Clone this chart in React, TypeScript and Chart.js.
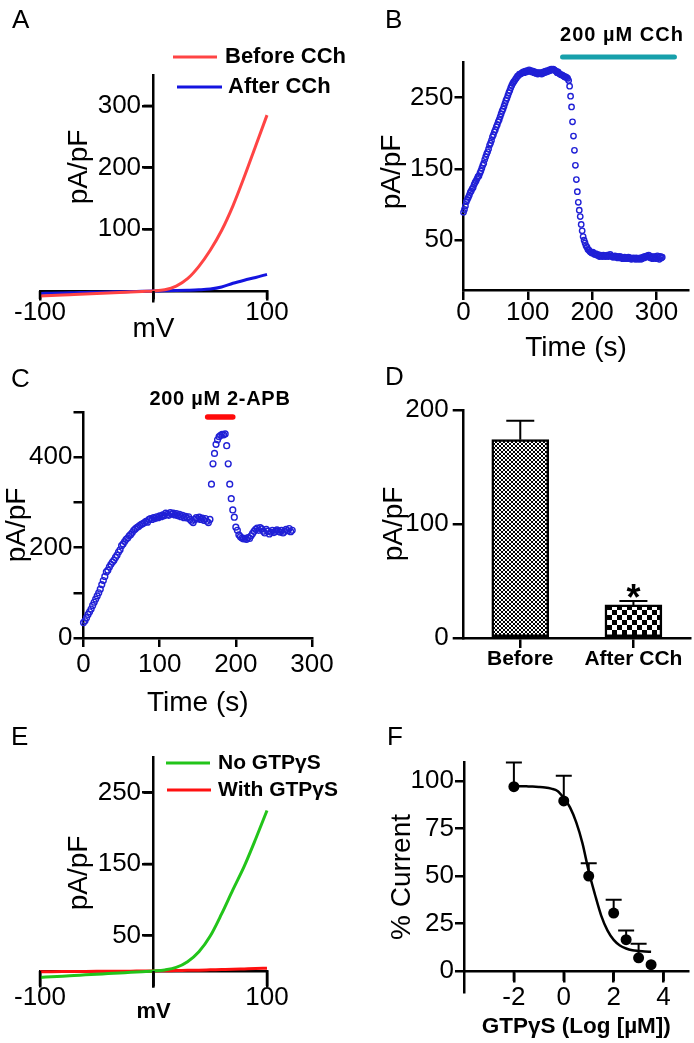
import React, { useEffect, useRef } from 'react';
import { Chart, registerables } from 'chart.js';

Chart.register(...registerables);

const FONT = "'Liberation Sans', Arial, Helvetica, sans-serif";
Chart.defaults.font.family = FONT;
Chart.defaults.color = '#000';

// ---------------- Panel A : I-V before / after CCh ----------------
const A_MV = [-100, -90, -80, -70, -60, -50, -40, -30, -20, -10, 0, 10, 20, 30, 40, 50, 60, 70, 80, 90, 100];
const A_BEFORE = [-8, -7.2, -6.4, -5.6, -4.8, -4, -3.2, -2.4, -1.6, -0.8, 0, 2, 8, 20, 40, 66, 98, 138, 185, 235, 285];
const A_AFTER = [-4, -3.6, -3.2, -2.8, -2.4, -2, -1.6, -1.2, -0.8, -0.4, 0, 0.3, 0.7, 1.2, 1.9, 3.2, 6.5, 12.5, 17.5, 22, 27];
const A_X_TICKS = [-100, 0, 100];
const A_Y_TICKS = [100, 200, 300];

// ---------------- Panel B : time course, CCh ----------------
const B_T0 = 0;
const B_DT = 1.5;
const B_VALUES = [
  89, 93, 98, 104, 107, 110, 113, 117, 119, 122,
  124, 128, 131, 133, 136, 139, 140, 144, 147, 151,
  155, 158, 163, 167, 171, 174, 178, 183, 186, 190,
  195, 198, 202, 205, 209, 212, 216, 219, 223, 227,
  231, 234, 238, 242, 246, 249, 253, 257, 260, 264,
  267, 270, 272, 274, 276, 278, 280, 281, 283, 283,
  284, 285, 286, 285, 287, 286, 288, 287, 289, 287,
  288, 286, 287, 285, 286, 284, 285, 283, 285, 284,
  285, 283, 284, 286, 285, 287, 286, 288, 287, 289,
  288, 290, 289, 290, 289, 288, 287, 285, 286, 284,
  283, 282, 282, 281, 280, 279, 279, 278, 277, 274,
  266, 252, 237, 216, 196, 176, 155, 135, 118, 103,
  92, 83, 72, 63, 55, 50, 46, 42, 40, 37,
  36, 34, 33, 32, 33, 31, 30, 31, 29, 30,
  28, 27, 29, 28, 27, 29, 28, 27, 28, 29,
  27, 28, 30, 28, 27, 26, 27, 28, 26, 27,
  25, 26, 27, 25, 26, 24, 25, 26, 24, 25,
  24, 26, 24, 25, 23, 24, 25, 24, 23, 25,
  24, 23, 24, 25, 23, 24, 26, 25, 27, 26,
  28, 27, 29, 26, 25, 27, 24, 26, 25, 27,
  24, 28, 26, 23, 27, 25, 26,
];
const B_X_TICKS = [0, 100, 200, 300];
const B_Y_TICKS = [50, 150, 250];
const CCH_ON = 154;
const CCH_OFF = 328;

// ---------------- Panel C : time course, 2-APB ----------------
const C_T0 = 0;
const C_DT = 2;
const C_VALUES = [
  34, 38, 45, 52, 58, 64, 72, 79, 86, 93,
  100, 108, 118, 127, 136, 146, 150, 157, 163, 168,
  172, 178, 183, 190, 195, 204, 208, 213, 218, 221,
  226, 229, 233, 238, 241, 244, 246, 249, 251, 253,
  255, 258, 256, 262, 264, 262, 266, 264, 268, 266,
  270, 268, 272, 270, 276, 273, 271, 277, 274, 276,
  272, 275, 270, 273, 268, 271, 266, 269, 265, 268,
  262, 258, 255, 262, 266, 263, 267, 262, 265, 260,
  264, 258, 255, 262, 340, 385, 408, 428, 438, 445,
  448, 450, 449, 451, 425, 385, 340, 308, 283, 267,
  245, 238, 228, 224, 221, 219, 220, 218, 222, 220,
  226, 231, 236, 240, 243, 238, 244, 241, 236, 232,
  240, 236, 230, 234, 238, 233, 236, 239, 236, 234,
  238, 232, 236, 240, 237, 242, 235, 238,
];
const C_X_TICKS = [0, 100, 200, 300];
const C_Y_TICKS = [0, 100, 200, 300, 400, 500];
const C_Y_LABELLED = [0, 200, 400];
const APB_ON = 163;
const APB_OFF = 196;

// ---------------- Panel D : summary bars ----------------
const D_LABELS = ['Before', 'After CCh'];
const D_MEANS = [174, 29];
const D_SEM = [16.5, 3.5];
const D_Y_TICKS = [0, 100, 200];

// ---------------- Panel E : I-V with / without GTPγS ----------------
const E_MV = [-100, -90, -80, -70, -60, -50, -40, -30, -20, -10, 0, 10, 20, 30, 40, 50, 60, 70, 80, 90, 100];
const E_NO_GTP = [-9, -8.1, -7.2, -6.3, -5.4, -4.5, -3.6, -2.7, -1.8, -0.9, 0, 1.5, 5, 13, 27, 49, 80, 114, 147, 185, 225];
const E_WITH_GTP = [-1, -0.9, -0.8, -0.7, -0.6, -0.5, -0.4, -0.3, -0.2, -0.1, 0, 0.3, 0.6, 0.9, 1.2, 1.6, 2, 2.4, 2.9, 3.4, 4];
const E_X_TICKS = [-100, 0, 100];
const E_Y_TICKS = [50, 150, 250];

// ---------------- Panel F : dose response ----------------
const F_LOGC = [-2, 0, 1, 2, 2.5, 3, 3.5];
const F_PCT = [97, 89.5, 50, 30.5, 16.5, 7, 3.4];
const F_SEM = [12.8, 13.3, 6.7, 7, 4.8, 7.4, 0];
const F_FIT_X = [-2, -1.75, -1.5, -1.25, -1, -0.75, -0.5, -0.25, 0, 0.25, 0.5, 0.75, 1, 1.25, 1.5, 1.75, 2, 2.25, 2.5, 2.75, 3, 3.25, 3.5];
const F_FIT_Y = [97.4, 97.3, 97.2, 97.1, 96.9, 96.6, 96.0, 94.8, 91.1, 86.1, 78.2, 67.2, 52.5, 40.3, 29.2, 21.4, 16.4, 13.5, 11.9, 11.0, 10.6, 10.3, 10.2];
const F_X_TICKS = [-2, 0, 2, 4];
const F_Y_TICKS = [0, 25, 50, 75, 100];

// ---------------- helpers ----------------
const TICK_SIZE = 26;
const TITLE_SIZE = 28;
const tickFont = (size = TICK_SIZE, bold = false) => ({ family: FONT, size, lineHeight: 1, weight: bold ? 'bold' : 'normal' });
const gridOpts = (tl: number) => ({
  display: true, drawOnChartArea: false, drawTicks: true, tickLength: tl,
  color: '#000', lineWidth: 2.5, offset: false,
});
const borderOpts = { display: true, color: '#000', width: 2.5 };
const setTicks = (vals: number[]) => (s: any) => { s.ticks = vals.map((v) => ({ value: v })); };
const fixW = (w: number) => (s: any) => { s.width = w; };
const fixH = (h: number) => (s: any) => { s.height = h; };
const titleOpt = (text: string, size: number, bold: boolean, padding: any) => ({
  display: true, text, color: '#000',
  font: { family: FONT, size, lineHeight: 1.2, weight: bold ? 'bold' : 'normal' },
  padding,
});
const baseOptions = (padding: any) => ({
  animation: false,
  responsive: false,
  devicePixelRatio: 1,
  events: [],
  layout: { padding },
  plugins: { legend: { display: false }, tooltip: { enabled: false } },
});
const xy = (xs: number[], ys: number[]) => xs.map((x, i) => ({ x, y: ys[i] }));
const series = (t0: number, dt: number, ys: number[]) => ys.map((y, i) => ({ x: t0 + i * dt, y }));
// label for a y axis that sits on x = 0: keep a gap for the tick mark
const crossLabel = (v: number) => `${v} \u2009`;

type TextItem = {
  text: string; x: number; y: number; size: number; bold?: boolean;
  align?: CanvasTextAlign; baseline?: CanvasTextBaseline; rotate?: number; spacing?: number;
};
type LegendRow = { x1: number; x2: number; tx: number; y: number };
type DecorCfg = {
  texts?: TextItem[];
  legend?: LegendRow[];
  legendSize?: number;
  bar?: { from: number; to: number; y: number; color: string; width: number };
};

function decor(cfg: DecorCfg) {
  return {
    id: 'decor',
    afterDraw(chart: any) {
      const ctx: CanvasRenderingContext2D = chart.ctx;
      ctx.save();
      if (cfg.bar) {
        const xs = chart.scales.x;
        ctx.strokeStyle = cfg.bar.color;
        ctx.lineWidth = cfg.bar.width;
        ctx.lineCap = 'round';
        ctx.beginPath();
        ctx.moveTo(xs.getPixelForValue(cfg.bar.from), cfg.bar.y);
        ctx.lineTo(xs.getPixelForValue(cfg.bar.to), cfg.bar.y);
        ctx.stroke();
      }
      (cfg.legend || []).forEach((row, i) => {
        const ds = chart.data.datasets[i];
        ctx.strokeStyle = ds.borderColor;
        ctx.lineWidth = 3;
        ctx.lineCap = 'butt';
        ctx.beginPath();
        ctx.moveTo(row.x1, row.y);
        ctx.lineTo(row.x2, row.y);
        ctx.stroke();
        ctx.fillStyle = '#000';
        ctx.font = `bold ${cfg.legendSize || 21}px ${FONT}`;
        ctx.textAlign = 'left';
        ctx.textBaseline = 'middle';
        ctx.fillText(ds.label, row.tx, row.y);
      });
      (cfg.texts || []).forEach((t) => {
        ctx.save();
        ctx.fillStyle = '#000';
        ctx.font = `${t.bold ? 'bold ' : ''}${t.size}px ${FONT}`;
        ctx.textAlign = t.align || 'left';
        ctx.textBaseline = t.baseline || 'middle';
        (ctx as any).letterSpacing = `${t.spacing || 0}px`;
        ctx.translate(t.x, t.y);
        if (t.rotate) ctx.rotate(t.rotate);
        ctx.fillText(t.text, 0, 0);
        ctx.restore();
      });
      ctx.restore();
    },
  };
}

// tick marks for axes that cross at the origin (x axis at y = 0, y axis at x = 0)
function crossTicks(cfg: { x?: number; y?: number }) {
  return {
    id: 'crossTicks',
    afterDatasetsDraw(chart: any) {
      const ctx: CanvasRenderingContext2D = chart.ctx;
      const xs = chart.scales.x;
      const ys = chart.scales.y;
      ctx.save();
      ctx.strokeStyle = '#000';
      ctx.lineWidth = 2.5;
      ctx.lineCap = 'butt';
      if (cfg.x) {
        const y0 = ys.getPixelForValue(0);
        xs.ticks.forEach((t: any) => {
          const px = xs.getPixelForValue(t.value);
          ctx.beginPath();
          ctx.moveTo(px, y0);
          ctx.lineTo(px, y0 + cfg.x!);
          ctx.stroke();
        });
      }
      if (cfg.y) {
        const x0 = xs.getPixelForValue(0);
        ys.ticks.forEach((t: any) => {
          const py = ys.getPixelForValue(t.value);
          ctx.beginPath();
          ctx.moveTo(x0, py);
          ctx.lineTo(x0 - cfg.y!, py);
          ctx.stroke();
        });
      }
      ctx.restore();
    },
  };
}

function errorBars(errors: number[], half: number, star?: { index: number; text: string; size: number; dy: number }) {
  return {
    id: 'errorBars',
    beforeDatasetsDraw(chart: any) {
      const ctx: CanvasRenderingContext2D = chart.ctx;
      const meta = chart.getDatasetMeta(0);
      const ys = chart.scales.y;
      const ds = chart.data.datasets[0];
      ctx.save();
      ctx.strokeStyle = '#000';
      ctx.lineWidth = 2;
      meta.data.forEach((el: any, i: number) => {
        const err = errors[i];
        if (!err) return;
        const raw = ds.data[i];
        const v = typeof raw === 'number' ? raw : raw.y;
        const top = ys.getPixelForValue(v + err);
        ctx.beginPath();
        ctx.moveTo(el.x, el.y);
        ctx.lineTo(el.x, top);
        ctx.moveTo(el.x - half, top);
        ctx.lineTo(el.x + half, top);
        ctx.stroke();
      });
      ctx.restore();
    },
    afterDatasetsDraw(chart: any) {
      if (!star) return;
      const ctx: CanvasRenderingContext2D = chart.ctx;
      const el = chart.getDatasetMeta(0).data[star.index];
      const ds = chart.data.datasets[0];
      const v = ds.data[star.index];
      const top = chart.scales.y.getPixelForValue(v + errors[star.index]);
      ctx.save();
      ctx.fillStyle = '#000';
      ctx.font = `bold ${star.size}px ${FONT}`;
      ctx.textAlign = 'center';
      ctx.textBaseline = 'alphabetic';
      ctx.fillText(star.text, el.x, top + star.dy);
      ctx.restore();
    },
  };
}

function makeChecker(cell: number) {
  const c = document.createElement('canvas');
  c.width = cell * 2;
  c.height = cell * 2;
  const g = c.getContext('2d')!;
  g.fillStyle = '#fff';
  g.fillRect(0, 0, cell * 2, cell * 2);
  g.fillStyle = '#000';
  g.fillRect(0, 0, cell, cell);
  g.fillRect(cell, cell, cell, cell);
  return g.createPattern(c, 'repeat');
}

const lineDs = (label: string, data: any[], color: string) => ({
  label, data, showLine: true, borderColor: color, backgroundColor: color, borderWidth: 3,
  pointRadius: 0, cubicInterpolationMode: 'monotone', fill: false, clip: false,
});
const circleDs = (data: any[], radius: number) => ({
  data, showLine: false, pointRadius: radius, pointBorderWidth: 1.4,
  borderColor: '#2020d6', pointBorderColor: '#2020d6', backgroundColor: 'rgba(0,0,0,0)',
  pointBackgroundColor: 'rgba(0,0,0,0)', clip: false,
});

// ---------------- configs ----------------
function configA() {
  return {
    type: 'scatter',
    data: {
      datasets: [
        lineDs('Before CCh', xy(A_MV, A_BEFORE), '#ff4444'),
        lineDs('After CCh', xy(A_MV, A_AFTER), '#1414e0'),
      ],
    },
    options: {
      ...baseOptions({ left: 40, right: 80, top: 75, bottom: 43.5 }),
      scales: {
        x: {
          type: 'linear', min: -100, max: 100, position: { y: 0 },
          afterBuildTicks: setTicks(A_X_TICKS), afterFit: fixH(54.8),
          ticks: { font: tickFont(), color: '#000', padding: 1, autoSkip: false, maxRotation: 0, callback: (v: number) => (v === 0 ? '' : String(v)) },
          grid: gridOpts(8), border: borderOpts,
          title: titleOpt('mV', TITLE_SIZE, false, 0),
        },
        y: {
          type: 'linear', min: -17, max: 350, position: { x: 0 },
          afterBuildTicks: setTicks(A_Y_TICKS),
          ticks: { font: tickFont(), color: '#000', padding: 0, autoSkip: false, callback: crossLabel },
          grid: gridOpts(10), border: borderOpts,
        },
      },
    },
    plugins: [
      crossTicks({ x: 8, y: 10 }),
      decor({
        texts: [
          { text: 'A', x: 12, y: 28, size: 26, baseline: 'alphabetic' },
          { text: 'pA/pF', x: 79, y: 167, size: TITLE_SIZE, align: 'center', rotate: -Math.PI / 2 },
        ],
        legend: [{ x1: 173, x2: 217, tx: 225, y: 57 }, { x1: 177, x2: 222, tx: 228, y: 87 }],
        legendSize: 22,
      }),
    ],
  };
}

function configB() {
  return {
    type: 'scatter',
    data: { datasets: [circleDs(series(B_T0, B_DT, B_VALUES), 2.7)] },
    options: {
      ...baseOptions({ left: 0, right: 4, top: 62, bottom: 0 }),
      scales: {
        x: {
          type: 'linear', min: 0, max: 350, position: 'bottom',
          afterBuildTicks: setTicks(B_X_TICKS), afterFit: fixH(80),
          ticks: { font: tickFont(), color: '#000', padding: 0, autoSkip: false, maxRotation: 0 },
          grid: gridOpts(10), border: borderOpts,
          title: titleOpt('Time (s)', TITLE_SIZE, false, { top: 0, bottom: 5.2 }),
        },
        y: {
          type: 'linear', min: -20, max: 300, position: 'left',
          afterBuildTicks: setTicks(B_Y_TICKS), afterFit: fixW(116.5),
          ticks: { font: tickFont(), color: '#000', padding: 1, autoSkip: false },
          grid: gridOpts(9), border: borderOpts,
        },
      },
    },
    plugins: [decor({
      texts: [
        { text: 'B', x: 38, y: 28, size: 26, baseline: 'alphabetic' },
        { text: 'pA/pF', x: 45, y: 172, size: TITLE_SIZE, align: 'center', rotate: -Math.PI / 2 },
        { text: '200 µM CCh', x: 275, y: 35, size: 20, bold: true, align: 'center', spacing: 1 },
      ],
      bar: { from: CCH_ON, to: CCH_OFF, y: 57, color: '#17a0ab', width: 5 },
    })],
  };
}

function configC() {
  return {
    type: 'scatter',
    data: { datasets: [circleDs(series(C_T0, C_DT, C_VALUES), 2.9)] },
    options: {
      ...baseOptions({ left: 0, right: 35, top: 66.75, bottom: 0 }),
      scales: {
        x: {
          type: 'linear', min: 0, max: 300, position: 'bottom',
          afterBuildTicks: setTicks(C_X_TICKS), afterFit: fixH(82),
          ticks: { font: tickFont(), color: '#000', padding: 5, autoSkip: false, maxRotation: 0 },
          grid: gridOpts(9), border: borderOpts,
          title: titleOpt('Time (s)', TITLE_SIZE, false, { top: 0, bottom: 0.2 }),
        },
        y: {
          type: 'linear', min: 0, max: 500, position: 'left',
          afterBuildTicks: setTicks(C_Y_TICKS), afterFit: fixW(83.5),
          ticks: { font: tickFont(), color: '#000', padding: 1, autoSkip: false, callback: (v: number) => (C_Y_LABELLED.includes(v) ? String(v) : '') },
          grid: gridOpts(10), border: borderOpts,
          title: titleOpt('pA/pF', TITLE_SIZE, false, { top: 0.4, bottom: 0 }),
        },
      },
    },
    plugins: [decor({
      texts: [
        { text: 'C', x: 11, y: 42, size: 26, baseline: 'alphabetic' },
        { text: '200 µM 2-APB', x: 220, y: 54.5, size: 20, bold: true, align: 'center', spacing: 0.7 },
      ],
      bar: { from: APB_ON, to: APB_OFF, y: 72, color: '#ff0a0a', width: 5.5 },
    })],
  };
}

function configD() {
  return {
    type: 'bar',
    data: {
      labels: D_LABELS,
      datasets: [{
        data: D_MEANS,
        backgroundColor: [makeChecker(2), makeChecker(5)],
        borderColor: '#000', borderWidth: 2.5, borderSkipped: false, barThickness: 57,
      }],
    },
    options: {
      ...baseOptions({ left: 0, right: 4, top: 65, bottom: 0 }),
      scales: {
        x: {
          type: 'category', position: 'bottom', afterFit: fixH(52),
          ticks: { font: tickFont(21, true), color: '#000', padding: 0.5, autoSkip: false, maxRotation: 0 },
          grid: gridOpts(10), border: borderOpts,
        },
        y: {
          type: 'linear', min: 0, max: 200, position: 'left',
          afterBuildTicks: setTicks(D_Y_TICKS), afterFit: fixW(116.7),
          ticks: { font: tickFont(), color: '#000', padding: 4, autoSkip: false },
          grid: gridOpts(11), border: borderOpts,
          title: titleOpt('pA/pF', TITLE_SIZE, false, { top: 30.2, bottom: 0 }),
        },
      },
    },
    plugins: [
      errorBars(D_SEM, 14, { index: 1, text: '*', size: 36, dy: 9 }),
      decor({ texts: [{ text: 'D', x: 38, y: 40, size: 26, baseline: 'alphabetic' }] }),
    ],
  };
}

function configE() {
  return {
    type: 'scatter',
    data: {
      datasets: [
        lineDs('No GTPγS', xy(E_MV, E_NO_GTP), '#22c41a'),
        lineDs('With GTPγS', xy(E_MV, E_WITH_GTP), '#ff1010'),
      ],
    },
    options: {
      ...baseOptions({ left: 40, right: 80, top: 57, bottom: 56.3 }),
      scales: {
        x: {
          type: 'linear', min: -100, max: 100, position: { y: 0 },
          afterBuildTicks: setTicks(E_X_TICKS), afterFit: fixH(54.2),
          ticks: { font: tickFont(), color: '#000', padding: -1, autoSkip: false, maxRotation: 0, callback: (v: number) => (v === 0 ? '' : String(v)) },
          grid: gridOpts(15), border: borderOpts,
          title: titleOpt('mV', 22, true, 0),
        },
        y: {
          type: 'linear', min: -22, max: 300, position: { x: 0 },
          afterBuildTicks: setTicks(E_Y_TICKS),
          ticks: { font: tickFont(), color: '#000', padding: 0, autoSkip: false, callback: crossLabel },
          grid: gridOpts(10), border: borderOpts,
        },
      },
    },
    plugins: [
      crossTicks({ x: 15, y: 10 }),
      decor({
        texts: [
          { text: 'E', x: 11, y: 45, size: 26, baseline: 'alphabetic' },
          { text: 'pA/pF', x: 79, y: 173, size: TITLE_SIZE, align: 'center', rotate: -Math.PI / 2 },
        ],
        legend: [{ x1: 166, x2: 210, tx: 218, y: 63 }, { x1: 167, x2: 211, tx: 218, y: 90 }],
        legendSize: 21,
      }),
    ],
  };
}

function configF() {
  return {
    type: 'scatter',
    data: {
      datasets: [
        {
          data: xy(F_LOGC, F_PCT), showLine: false, pointRadius: 5.5, pointBorderWidth: 0,
          pointBackgroundColor: '#000', backgroundColor: '#000', borderColor: '#000', clip: false,
        },
        { ...lineDs('fit', xy(F_FIT_X, F_FIT_Y), '#000'), borderWidth: 2.5 },
      ],
    },
    options: {
      ...baseOptions({ left: 0, right: 4, top: 62, bottom: 51 }),
      scales: {
        x: {
          type: 'linear', min: -4, max: 5, position: { y: 0 },
          afterBuildTicks: setTicks(F_X_TICKS), afterFit: fixH(69.4),
          ticks: { font: tickFont(), color: '#000', padding: 4, autoSkip: false, maxRotation: 0 },
          grid: gridOpts(10), border: borderOpts,
          title: titleOpt('GTPγS (Log [µM])', 22.5, true, 0),
        },
        y: {
          type: 'linear', min: -11, max: 110, position: 'left',
          afterBuildTicks: setTicks(F_Y_TICKS), afterFit: fixW(117),
          ticks: { font: tickFont(), color: '#000', padding: 1, autoSkip: false },
          grid: gridOpts(9), border: borderOpts,
          title: titleOpt('% Current', TITLE_SIZE, false, { top: 38.2, bottom: 0 }),
        },
      },
    },
    plugins: [
      crossTicks({ x: 10 }),
      errorBars(F_SEM, 8),
      decor({ texts: [{ text: 'F', x: 40, y: 45, size: 26, baseline: 'alphabetic' }] }),
    ],
  };
}

type PanelProps = { left: number; top: number; width: number; height: number; build: () => any };

function Panel({ left, top, width, height, build }: PanelProps) {
  const ref = useRef<HTMLCanvasElement>(null);
  useEffect(() => {
    const chart = new Chart(ref.current as HTMLCanvasElement, build());
    return () => chart.destroy();
  }, []);
  return (
    <canvas
      ref={ref}
      width={width}
      height={height}
      style={{ position: 'absolute', left, top, width, height }}
    />
  );
}

export default function App() {
  return (
    <div style={{ position: 'absolute', left: 0, top: 0, width: 694, height: 1043, background: '#fff', overflow: 'hidden' }}>
      <Panel left={0} top={0} width={347} height={345} build={configA} />
      <Panel left={347} top={0} width={347} height={370} build={configB} />
      <Panel left={0} top={345} width={347} height={375} build={configC} />
      <Panel left={347} top={345} width={347} height={345} build={configD} />
      <Panel left={0} top={700} width={347} height={343} build={configE} />
      <Panel left={347} top={700} width={347} height={343} build={configF} />
    </div>
  );
}
